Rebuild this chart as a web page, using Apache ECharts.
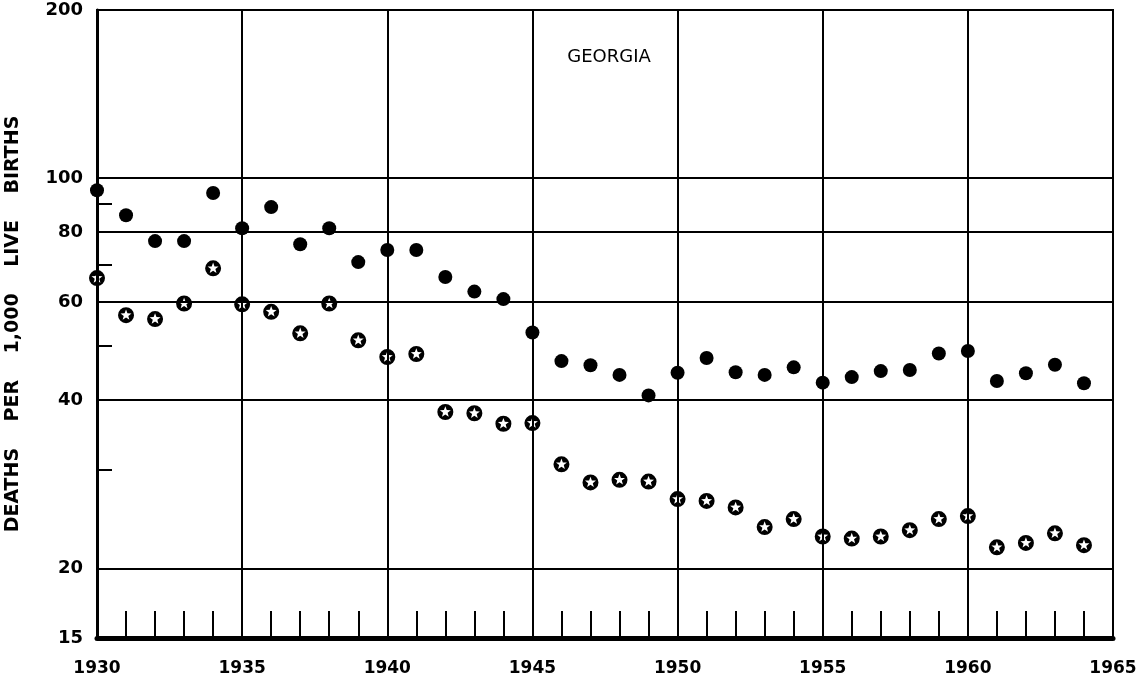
<!DOCTYPE html>
<html>
<head>
<meta charset="utf-8">
<script src="https://cdn.jsdelivr.net/npm/echarts@6/dist/echarts.min.js"></script>
<style>
  html, body { margin: 0; padding: 0; background: #fff; }
  #container { width: 1145px; height: 683px; }
</style>
</head>
<body>
<div id="container"></div>
<script>
// years 1930..1964, deaths per 1,000 live births
let years = [1930, 1931, 1932, 1933, 1934, 1935, 1936, 1937, 1938, 1939,
  1940, 1941, 1942, 1943, 1944, 1945, 1946, 1947, 1948, 1949,
  1950, 1951, 1952, 1953, 1954, 1955, 1956, 1957, 1958, 1959,
  1960, 1961, 1962, 1963, 1964];
let solidDots = [95.1, 85.8, 77.1, 77.1, 94.0, 81.3, 88.7, 76.1, 81.3, 70.7,
  74.3, 74.3, 66.5, 62.6, 60.7, 52.9, 47.0, 46.2, 44.4, 40.8,
  44.8, 47.6, 44.9, 44.4, 45.8, 43.0, 44.0, 45.1, 45.3, 48.5,
  49.0, 43.3, 44.7, 46.3, 42.9];
let starDots = [66.2, 56.8, 55.9, 59.6, 68.9, 59.4, 57.6, 52.7, 59.6, 51.2,
  47.8, 48.4, 38.1, 37.9, 36.3, 36.4, 30.7, 28.5, 28.8, 28.6,
  26.6, 26.4, 25.7, 23.7, 24.5, 22.8, 22.6, 22.8, 23.4, 24.5,
  24.8, 21.8, 22.2, 23.1, 22.0];
let yLabels = [15, 20, 40, 60, 80, 100, 200];
let yGrid = [20, 40, 60, 80, 100];
let yMinor = [30, 50, 70, 90];

// black ring with a white star cut out of it
const starRing = 'path://M50,0A50,50,0,1,1,50,100A50,50,0,1,1,50,0Z' +
  'M50,14L41.18,37.86L15.76,38.87L35.73,54.63L28.84,79.13L50,65L71.16,79.13L64.27,54.63L84.24,38.87L58.82,37.86Z';

var myChart = echarts.init(document.getElementById('container'));

let option = {
  backgroundColor: '#fff',
  animation: false,
  title: {
    text: 'GEORGIA',
    left: 604,
    top: 43,
    textAlign: 'center',
    textStyle: { fontFamily: 'DejaVu Sans', fontSize: 18, fontWeight: 'normal', color: '#000' },
  },
  grid: {
    left: 97,
    right: 32,
    top: 10,
    bottom: 45,
    outerBoundsMode: 'none',
    containLabel: false,
    show: true,
    borderColor: '#000',
    borderWidth: 2,
  },
  xAxis: {
    type: 'value',
    min: 1930,
    max: 1965,
    interval: 5,
    axisLine: { lineStyle: { color: '#000', width: 5 } },
    axisTick: { inside: true, length: 27, lineStyle: { color: '#000', width: 2 } },
    minorTick: { show: true, splitNumber: 5, length: 27, lineStyle: { color: '#000', width: 2 } },
    splitLine: { show: true, lineStyle: { color: '#000', width: 2 } },
    axisLabel: {
      margin: 22,
      color: '#000',
      fontFamily: 'DejaVu Sans',
      fontSize: 17,
      fontWeight: 'bold',
      formatter: (v) => String(v),
    },
  },
  yAxis: [
    {
      type: 'log',
      logBase: 10,
      min: 15,
      max: 200,
      name: 'DEATHS    PER    1,000    LIVE    BIRTHS',
      nameLocation: 'middle',
      nameGap: 74,
      nameTextStyle: { fontFamily: 'DejaVu Sans', fontSize: 19, fontWeight: 'bold', color: '#000' },
      axisLine: { show: true, lineStyle: { color: '#000', width: 3 } },
      axisTick: { show: true, length: 0, customValues: yGrid },
      splitLine: { show: true, lineStyle: { color: '#000', width: 2 } },
      axisLabel: {
        customValues: yLabels,
        margin: 14,
        color: '#000',
        fontFamily: 'DejaVu Sans',
        fontSize: 18,
        fontWeight: 'bold',
      },
    },
    {
      type: 'log',
      logBase: 10,
      min: 15,
      max: 200,
      position: 'left',
      axisLine: { show: false },
      axisLabel: { show: false },
      splitLine: { show: false },
      axisTick: { show: true, inside: true, length: 15, customValues: yMinor, lineStyle: { color: '#000', width: 2 } },
    },
  ],
  series: [
    {
      name: 'solid',
      type: 'scatter',
      symbol: 'circle',
      symbolSize: 14,
      itemStyle: { color: '#000', opacity: 1 },
      data: years.map((y, i) => [y, solidDots[i]]),
    },
    {
      name: 'star',
      type: 'scatter',
      symbol: starRing,
      symbolSize: 16,
      itemStyle: { color: '#000', opacity: 1 },
      data: years.map((y, i) => [y, starDots[i]]),
    },
  ],
};

if (option && typeof option === 'object') {
  myChart.setOption(option);
}
</script>
</body>
</html>
